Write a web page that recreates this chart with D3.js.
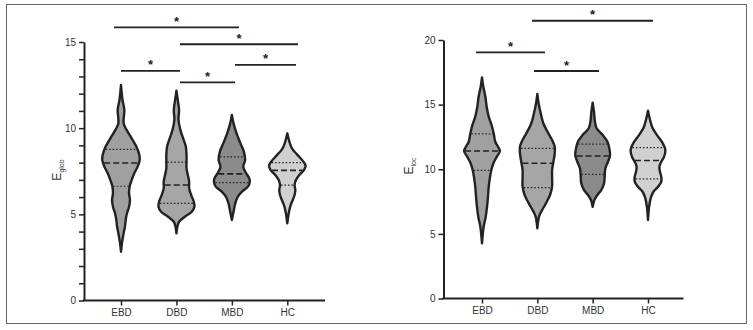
<!DOCTYPE html>
<html>
<head>
<meta charset="utf-8">
<script src="https://cdn.jsdelivr.net/npm/d3@7"></script>
<style>
  body { margin: 0; background: #fff; }
  svg { display: block; font-family: "Liberation Sans", Arial, sans-serif; }
</style>
</head>
<body>
<div id="chart"></div>
<script>
// Groups shown on both panels
const groups = ["EBD", "DBD", "MBD", "HC"];

// Violin outlines: [value, relative half width]
const globEBD = [[12.51,0],[11.64,0.08],[11.06,0.18],[10.28,0.14],[9.90,0.3],[9.41,0.57],[8.93,0.82],[8.45,0.98],[8.15,1.0],[7.77,0.89],[7.38,0.71],[6.99,0.57],[6.61,0.46],[6.22,0.43],[5.83,0.48],[5.44,0.43],[5.06,0.32],[4.67,0.25],[4.28,0.21],[3.90,0.14],[3.32,0.05],[2.83,0]];
const globDBD = [[12.18,0],[11.64,0.07],[11.06,0.14],[10.48,0.11],[9.90,0.21],[9.41,0.36],[8.93,0.5],[8.45,0.54],[8.06,0.54],[7.67,0.54],[7.28,0.61],[6.90,0.68],[6.51,0.68],[6.12,0.79],[5.73,0.93],[5.44,0.96],[5.15,0.82],[4.86,0.45],[4.57,0.14],[4.28,0.05],[3.90,0]];
const globMBD = [[10.77,0],[10.28,0.09],[9.70,0.25],[9.12,0.46],[8.64,0.64],[8.15,0.71],[7.77,0.61],[7.48,0.71],[7.09,0.93],[6.90,0.96],[6.61,0.86],[6.32,0.54],[6.03,0.32],[5.64,0.18],[5.15,0.09],[4.67,0]];
const globHC  = [[9.70,0],[9.22,0.11],[8.83,0.25],[8.45,0.54],[8.06,0.86],[7.81,0.98],[7.57,0.89],[7.28,0.64],[6.99,0.46],[6.70,0.39],[6.41,0.43],[6.12,0.39],[5.83,0.29],[5.54,0.18],[5.15,0.09],[4.48,0]];

const locEBD = [[17.11,0],[16.39,0.07],[15.61,0.18],[14.84,0.25],[14.07,0.36],[13.29,0.54],[12.65,0.64],[12.13,0.71],[11.74,0.86],[11.41,0.96],[10.97,0.79],[10.46,0.61],[9.94,0.5],[9.42,0.43],[8.65,0.36],[7.88,0.32],[7.10,0.27],[6.33,0.2],[5.56,0.09],[4.27,0]];
const locDBD = [[15.82,0],[15.10,0.07],[14.33,0.18],[13.56,0.32],[12.91,0.54],[12.26,0.79],[11.74,0.93],[11.23,0.93],[10.58,0.86],[9.94,0.79],[9.30,0.79],[8.65,0.79],[8.01,0.68],[7.37,0.46],[6.72,0.21],[6.33,0.09],[5.43,0]];
const locMBD = [[15.15,0],[14.45,0.07],[13.81,0.11],[13.17,0.21],[12.65,0.54],[12.13,0.79],[11.62,0.89],[11.10,0.93],[10.58,0.82],[10.07,0.68],[9.42,0.64],[8.91,0.61],[8.39,0.46],[8.01,0.25],[7.62,0.09],[7.10,0]];
const locHC  = [[14.53,0],[13.81,0.11],[13.17,0.25],[12.52,0.54],[12.01,0.79],[11.49,0.93],[10.97,0.86],[10.58,0.71],[10.20,0.61],[9.81,0.64],[9.42,0.71],[9.04,0.71],[8.65,0.54],[8.26,0.29],[7.75,0.14],[6.98,0.05],[6.07,0]];

// Quartiles per group
const globQ1     = [6.63, 5.64, 6.84, 6.70];
const globMedian = [7.98, 6.70, 7.35, 7.55];
const globQ3     = [8.77, 8.03, 8.33, 8.00];
const locQ1      = [9.91, 8.58, 9.61, 9.26];
const locMedian  = [11.41, 10.47, 11.03, 10.68];
const locQ3      = [12.74, 11.62, 11.95, 11.67];

// Significance bars: [from group index, to group index, level]
const globSig = [[-0.126, 2.129, 15.85], [1.064, 3.193, 14.87], [0, 1.064, 13.32], [2.057, 3.157, 13.67], [1.064, 2.057, 12.66]];
const locSig  = [[0.904, 3.09, 21.49], [-0.108, 1.139, 19.05], [0.94, 2.115, 17.60]];

// Axis ticks
const globTicks = [0, 5, 10, 15];
const globMinor = [1, 2, 3, 4, 6, 7, 8, 9, 11, 12, 13, 14];
const locTicks  = [0, 5, 10, 15, 20];

const fills = ["#a0a0a0", "#a6a6a6", "#8b8b8b", "#d0d0d0"];
const ink = "#222";

const svg = d3.select("#chart").append("svg")
  .attr("width", 753)
  .attr("height", 330);

// Outer frame
svg.append("rect")
  .attr("x", 6.5).attr("y", 4.5)
  .attr("width", 740).attr("height", 319)
  .attr("fill", "none")
  .attr("stroke", "#666")
  .attr("stroke-width", 1);

function drawPanel(p) {
  const g = svg.append("g");

  const y = d3.scaleLinear().domain([0, p.yMax]).range([p.yBottom, p.yTop]);
  const x = d3.scalePoint().domain(groups).range(p.catRange);
  const xi = d3.scaleLinear().domain([0, groups.length - 1]).range(p.catRange);
  const hw = d3.scaleLinear().domain([0, 1]).range([0, 18.7]);

  // Violins
  p.profiles.forEach((prof, i) => {
    const cx = x(groups[i]);
    const area = d3.area()
      .curve(d3.curveCatmullRom)
      .y(d => y(d[0]))
      .x0(d => cx - hw(d[1]))
      .x1(d => cx + hw(d[1]));

    g.append("path")
      .datum(prof)
      .attr("d", area)
      .attr("fill", fills[i])
      .attr("stroke", ink)
      .attr("stroke-width", 2.4)
      .attr("stroke-linejoin", "round");

    // width of violin at a given value
    const sorted = prof.slice().sort((a, b) => a[0] - b[0]);
    const widthAt = d3.scaleLinear().domain(sorted.map(d => d[0])).range(sorted.map(d => d[1]));

    const lines = [
      { v: p.q1[i], dash: "1.5,2", w: 1.2 },
      { v: p.q3[i], dash: "1.5,2", w: 1.2 },
      { v: p.median[i], dash: "6,3", w: 1.6 }
    ];
    lines.forEach(l => {
      const half = hw(widthAt(l.v)) - 1;
      g.append("line")
        .attr("x1", cx - half).attr("x2", cx + half)
        .attr("y1", y(l.v)).attr("y2", y(l.v))
        .attr("stroke", ink)
        .attr("stroke-width", l.w)
        .attr("stroke-dasharray", l.dash);
    });
  });

  // Y axis
  const yAxis = g.append("g")
    .attr("transform", `translate(${p.axisX},0)`)
    .call(d3.axisLeft(y).tickValues(p.ticks).tickSize(5).tickSizeOuter(0).tickPadding(3));
  yAxis.select(".domain").attr("stroke", ink).attr("stroke-width", 2);
  yAxis.selectAll(".tick line").attr("stroke", ink).attr("stroke-width", 1.5);
  yAxis.selectAll(".tick text").attr("fill", "#333").style("font-size", "10px");

  if (p.minor) {
    const m = g.append("g")
      .attr("transform", `translate(${p.axisX},0)`)
      .call(d3.axisLeft(y).tickValues(p.minor).tickSize(5).tickSizeOuter(0).tickFormat(""));
    m.select(".domain").remove();
    m.selectAll(".tick line").attr("stroke", ink).attr("stroke-width", 1.5);
  }

  // X axis
  g.append("line")
    .attr("x1", p.axisX - 1).attr("x2", p.axisEnd)
    .attr("y1", p.yBottom).attr("y2", p.yBottom)
    .attr("stroke", ink).attr("stroke-width", 2);

  const xAxis = g.append("g")
    .attr("transform", `translate(0,${p.yBottom})`)
    .call(d3.axisBottom(x).tickSize(5).tickSizeOuter(0).tickPadding(3));
  xAxis.select(".domain").remove();
  xAxis.selectAll(".tick line").attr("stroke", ink).attr("stroke-width", 1.5);
  xAxis.selectAll(".tick text").attr("fill", "#333").style("font-size", "10px");

  // Axis title with subscript
  const title = g.append("text")
    .attr("transform", `translate(${p.titleX},${p.titleY}) rotate(-90)`)
    .attr("text-anchor", "middle")
    .attr("fill", "#333")
    .style("font-size", "12px");
  title.append("tspan").text("E");
  title.append("tspan").attr("dy", 3).style("font-size", "7px").text(p.sub);

  // Significance bars and stars
  p.sig.forEach(s => {
    const x1 = xi(s[0]), x2 = xi(s[1]), yy = y(s[2]);
    g.append("line")
      .attr("x1", x1).attr("x2", x2)
      .attr("y1", yy).attr("y2", yy)
      .attr("stroke", ink)
      .attr("stroke-width", 1.8);
    g.append("text")
      .attr("x", (x1 + x2) / 2)
      .attr("y", yy - 8.5 + 7)
      .attr("text-anchor", "middle")
      .attr("fill", ink)
      .style("font-size", "13px")
      .style("font-weight", "bold")
      .text("*");
  });
}

drawPanel({
  profiles: [globEBD, globDBD, globMBD, globHC],
  q1: globQ1, median: globMedian, q3: globQ3,
  sig: globSig,
  ticks: globTicks, minor: globMinor,
  yMax: 15, yTop: 42, yBottom: 300.5,
  axisX: 84, axisEnd: 325,
  catRange: [121, 287.3],
  titleX: 61, titleY: 170, sub: "glob"
});

drawPanel({
  profiles: [locEBD, locDBD, locMBD, locHC],
  q1: locQ1, median: locMedian, q3: locQ3,
  sig: locSig,
  ticks: locTicks, minor: null,
  yMax: 20, yTop: 40, yBottom: 298.5,
  axisX: 443.5, axisEnd: 683.5,
  catRange: [482, 648],
  titleX: 413, titleY: 166, sub: "loc"
});
</script>
</body>
</html>
